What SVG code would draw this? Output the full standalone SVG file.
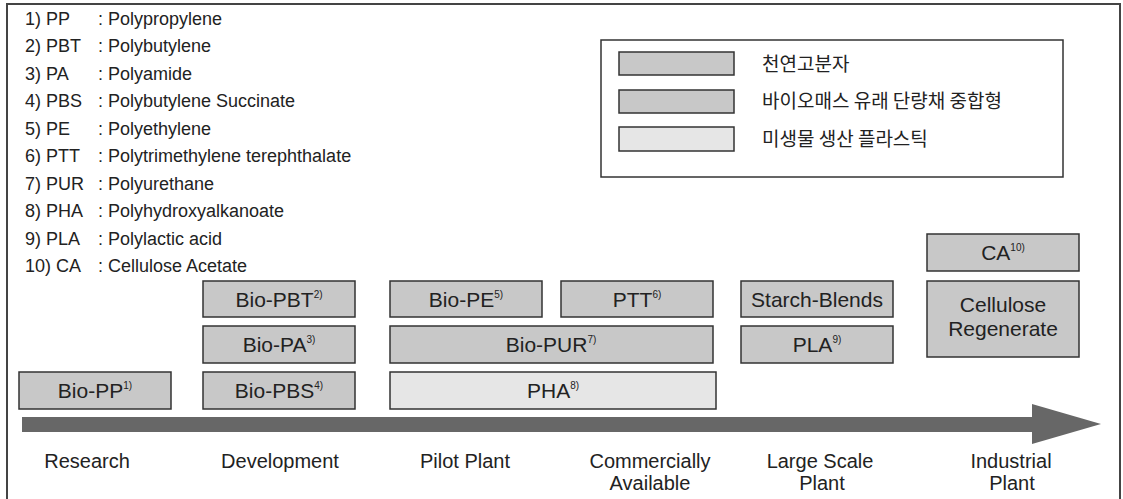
<svg xmlns="http://www.w3.org/2000/svg" width="1123" height="499" viewBox="0 0 1123 499">
<style>
text{font-family:"Liberation Sans",Arial,sans-serif;fill:#222}
.lst{font-size:18px}
.kr{font-size:19px;font-family:"Noto Sans CJK KR","Liberation Sans",sans-serif}
.bx{fill:#c8c8c8;stroke:#333;stroke-width:1.5}
.lt{fill:#e6e6e6;stroke:#333;stroke-width:1.5}
.lbl{font-size:21px;text-anchor:middle}
.stg{font-size:20px;text-anchor:middle}
.sup{font-size:10px}
</style>
<rect width="1123" height="499" fill="#fff"/>
<rect x="7" y="4" width="1113" height="510" fill="none" stroke="#444" stroke-width="2"/>
<g id="list" class="lst">
<text x="25" y="24.5">1) PP</text><text x="98" y="24.5">: Polypropylene</text>
<text x="25" y="52">2) PBT</text><text x="98" y="52">: Polybutylene</text>
<text x="25" y="79.5">3) PA</text><text x="98" y="79.5">: Polyamide</text>
<text x="25" y="107">4) PBS</text><text x="98" y="107">: Polybutylene Succinate</text>
<text x="25" y="134.5">5) PE</text><text x="98" y="134.5">: Polyethylene</text>
<text x="25" y="162">6) PTT</text><text x="98" y="162">: Polytrimethylene terephthalate</text>
<text x="25" y="189.5">7) PUR</text><text x="98" y="189.5">: Polyurethane</text>
<text x="25" y="217">8) PHA</text><text x="98" y="217">: Polyhydroxyalkanoate</text>
<text x="25" y="244.5">9) PLA</text><text x="98" y="244.5">: Polylactic acid</text>
<text x="25" y="272">10) CA</text><text x="98" y="272">: Cellulose Acetate</text>
</g>
<g id="legend">
<rect x="601" y="40" width="462" height="137" fill="#fff" stroke="#333" stroke-width="1.5"/>
<rect class="bx" x="619" y="52" width="115" height="23"/>
<rect class="bx" x="619" y="90" width="115" height="23"/>
<rect class="lt" x="619" y="127" width="115" height="24"/>
<text class="kr" x="762" y="70.5">천연고분자</text>
<text class="kr" x="762" y="107.5">바이오매스 유래 단량채 중합형</text>
<text class="kr" x="762" y="145.5">미생물 생산 플라스틱</text>
</g>
<g id="connectors">
<rect x="22" y="417" width="1012" height="15" fill="#676767"/>
<polygon points="1032,404 1101,424 1032,444" fill="#676767"/>
</g>
<g id="bio-pp"><rect class="bx" x="19" y="372" width="152" height="37"/><text class="lbl" x="95" y="398">Bio-PP<tspan class="sup" dy="-9">1)</tspan></text></g>
<g id="bio-pbt"><rect class="bx" x="203" y="281" width="152" height="36"/><text class="lbl" x="279" y="306.5">Bio-PBT<tspan class="sup" dy="-9">2)</tspan></text></g>
<g id="bio-pa"><rect class="bx" x="203" y="326" width="152" height="37"/><text class="lbl" x="279" y="352">Bio-PA<tspan class="sup" dy="-9">3)</tspan></text></g>
<g id="bio-pbs"><rect class="bx" x="203" y="372" width="152" height="37"/><text class="lbl" x="279" y="398">Bio-PBS<tspan class="sup" dy="-9">4)</tspan></text></g>
<g id="bio-pe"><rect class="bx" x="390" y="281" width="152" height="36"/><text class="lbl" x="466" y="306.5">Bio-PE<tspan class="sup" dy="-9">5)</tspan></text></g>
<g id="ptt"><rect class="bx" x="561" y="281" width="152" height="36"/><text class="lbl" x="637" y="306.5">PTT<tspan class="sup" dy="-9">6)</tspan></text></g>
<g id="bio-pur"><rect class="bx" x="390" y="326" width="323" height="37"/><text class="lbl" x="551" y="352">Bio-PUR<tspan class="sup" dy="-9">7)</tspan></text></g>
<g id="pha"><rect class="lt" x="390" y="372" width="326" height="37"/><text class="lbl" x="553" y="398">PHA<tspan class="sup" dy="-9">8)</tspan></text></g>
<g id="starch"><rect class="bx" x="741" y="281" width="152" height="36"/><text class="lbl" x="817" y="306.5">Starch-Blends</text></g>
<g id="pla"><rect class="bx" x="741" y="326" width="152" height="37"/><text class="lbl" x="817" y="352">PLA<tspan class="sup" dy="-9">9)</tspan></text></g>
<g id="ca"><rect class="bx" x="927" y="234" width="152" height="37"/><text class="lbl" x="1003" y="260">CA<tspan class="sup" dy="-9">10)</tspan></text></g>
<g id="cellulose"><rect class="bx" x="927" y="281" width="152" height="76"/><text class="lbl" x="1003" y="312">Cellulose</text><text class="lbl" x="1003" y="336">Regenerate</text></g>
<g id="stages" class="stg">
<text x="87" y="468">Research</text>
<text x="280" y="468">Development</text>
<text x="465" y="468">Pilot Plant</text>
<text x="650" y="468">Commercially</text><text x="650" y="490">Available</text>
<text x="820" y="468">Large Scale</text><text x="822" y="490">Plant</text>
<text x="1011" y="468">Industrial</text><text x="1012" y="490">Plant</text>
</g>
</svg>
